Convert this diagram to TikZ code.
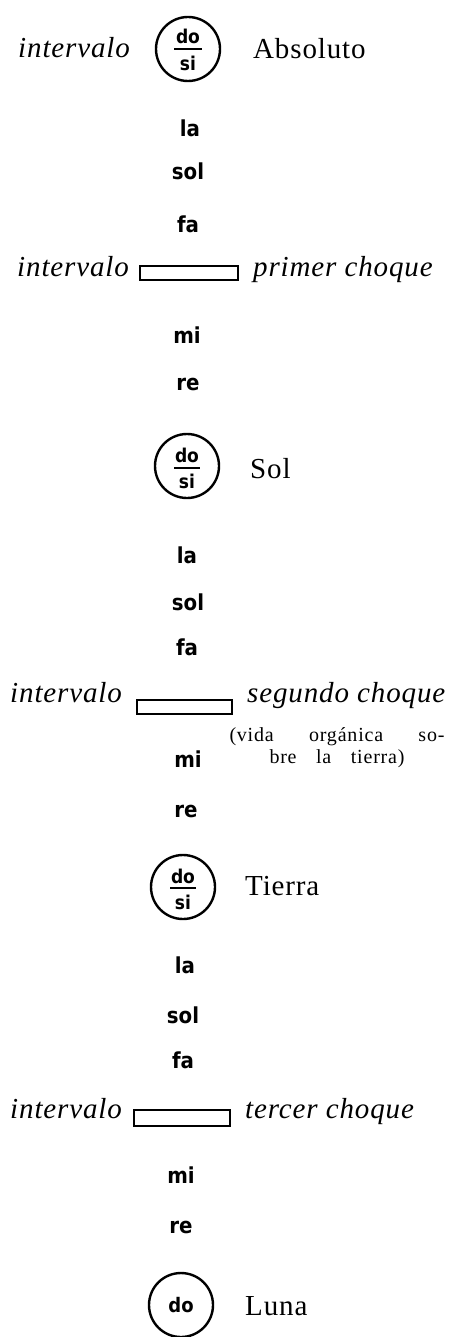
\documentclass[tikz,border=0pt]{standalone}
\usepackage{fontspec}
\setmainfont{Liberation Serif}
\newfontfamily\notefont{DejaVu Sans Condensed}
\newfontfamily\smallfont{Liberation Serif}[LetterSpace=4]
\newfontfamily\itfont{Liberation Serif}[LetterSpace=3]
\begin{document}
\begin{tikzpicture}[x=1pt,y=-1pt,
  note/.style={font=\notefont\bfseries\fontsize{22}{26}\selectfont, inner sep=0pt, anchor=base},
  innote/.style={font=\notefont\bfseries\fontsize{19}{22}\selectfont, inner sep=0pt, anchor=center},
  lab/.style={font=\itfont\fontsize{29}{34}\selectfont, inner sep=0pt, anchor=base west},
  itlab/.style={font=\itfont\itshape\fontsize{29}{34}\selectfont, inner sep=0pt, anchor=base west},
  small/.style={font=\smallfont\fontsize{20}{23}\selectfont, inner sep=0pt, anchor=base},
  planet/.style={circle, draw, line width=2.4pt, minimum size=64pt, inner sep=0pt},
  gapbox/.style={draw, line width=2pt, inner sep=0pt},
  bar/.style={line width=1.6pt}]
\useasboundingbox[fill=white] (0,0) rectangle (453,1337);

% ---- Absoluto
\node[itlab] (i0) at (18,58) {intervalo};
\node[planet] (A) at (188,49) {};
\node[innote] (Ado) at (188,36) {do};
\node[innote] (Asi) at (188,63) {si};
\draw[bar] ([xshift=-14pt]A.center) -- ([xshift=14pt]A.center);
\node[lab] (Aname) at (253,59) {Absoluto};

\node[note] (la1) at (190,137) {la};
\node[note] (sol1) at (188,180) {sol};
\node[note] (fa1) at (188,233) {fa};

\node[itlab] (i1) at (17,277) {intervalo};
\node[gapbox, minimum width=98pt, minimum height=14pt] (g1) at (189,273.5) {};
\node[itlab] (c1) at (253,277) {primer choque};

\node[note] (mi1) at (187,343) {mi};
\node[note] (re1) at (188,390) {re};

% ---- Sol
\node[planet] (S) at (187,466) {};
\node[innote] (Sdo) at (187,455) {do};
\node[innote] (Ssi) at (187,481) {si};
\draw[bar] ([xshift=-13pt,yshift=-2pt]S.center) -- ([xshift=13pt,yshift=-2pt]S.center);
\node[lab] (Sname) at (250,478) {Sol};

\node[note] (la2) at (187,563) {la};
\node[note] (sol2) at (188,610) {sol};
\node[note] (fa2) at (187,655) {fa};

\node[itlab] (i2) at (10,702) {intervalo};
\node[gapbox, minimum width=95pt, minimum height=14pt] (g2) at (184.5,706.5) {};
\node[itlab] (c2) at (247,702) {segundo choque};
\node[small] (v1) at (337,741) {\makebox[215pt][s]{(vida orgánica so-}};
\node[small] (v2) at (337,763) {\makebox[135pt][s]{bre la tierra)}};

\node[note] (mi2) at (188,767) {mi};
\node[note] (re2) at (186,817) {re};

% ---- Tierra
\node[planet] (T) at (183,887) {};
\node[innote] (Tdo) at (183,876) {do};
\node[innote] (Tsi) at (183,902) {si};
\draw[bar] ([xshift=-13pt,yshift=-1pt]T.center) -- ([xshift=13pt,yshift=-1pt]T.center);
\node[lab] (Tname) at (245,895) {Tierra};

\node[note] (la3) at (185,973) {la};
\node[note] (sol3) at (183,1023) {sol};
\node[note] (fa3) at (183,1068) {fa};

\node[itlab] (i3) at (10,1118) {intervalo};
\node[gapbox, minimum width=96pt, minimum height=16pt] (g3) at (181.5,1117.5) {};
\node[itlab] (c3) at (245,1118) {tercer choque};

\node[note] (mi3) at (181,1183) {mi};
\node[note] (re3) at (181,1233) {re};

% ---- Luna
\node[planet] (L) at (181,1305) {};
\node[innote, font=\notefont\bfseries\fontsize{20}{24}\selectfont] (Ldo) at (181,1305) {do};
\node[lab] (Lname) at (245,1315) {Luna};
\end{tikzpicture}
\end{document}
